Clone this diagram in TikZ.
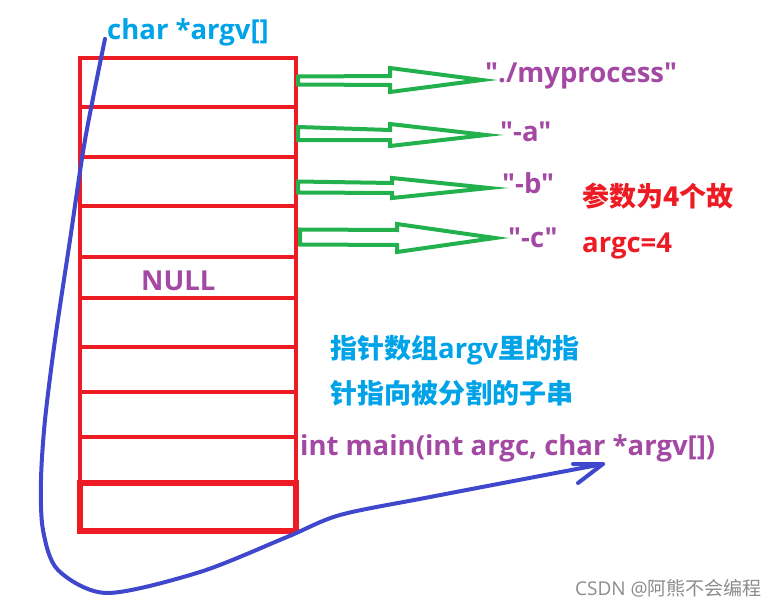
\documentclass[tikz,border=0pt]{standalone}
\usepackage{fontspec}
\setmainfont{Open Sans}[Ligatures=TeXOff]
\newfontfamily\cjk{Noto Sans CJK SC}[Ligatures=TeXOff]
\usetikzlibrary{calc}
\definecolor{pred}{HTML}{ED1C24}
\definecolor{pgreen}{HTML}{22B14C}
\definecolor{pblue}{HTML}{3F48CC}
\definecolor{ppurple}{HTML}{A349A4}
\definecolor{pcyan}{HTML}{00A2E8}
\definecolor{pgray}{HTML}{8C8C8C}
\tikzset{
  cell/.style={draw=pred, line width=4.5pt, minimum width=216pt, inner sep=0pt, outer sep=0pt},
  lbl/.style={anchor=base west, inner sep=0pt, font=\fontsize{27.5}{30}\selectfont\bfseries},
  garrow/.style={draw=pgreen, line width=4pt, line join=miter},
  curve/.style={draw=pblue, line width=4pt, line cap=round, line join=round},
}
\newcommand{\zh}{\cjk\fontsize{27}{30}\selectfont\bfseries}
\begin{document}
\begin{tikzpicture}[x=1pt,y=-1pt]
\useasboundingbox (0,0) rectangle (781,607);
% cells
\node[cell, minimum height=49pt] (c1) at (188,82.5) {};
\node[cell, minimum height=50pt] (c2) at (188,132) {};
\node[cell, minimum height=49pt] (c3) at (188,181.5) {};
\node[cell, minimum height=51pt] (c4) at (188,231.5) {};
\node[cell, minimum height=41pt] (c5) at (188,277.5) {};
\node[cell, minimum height=49pt] (c6) at (188,322.5) {};
\node[cell, minimum height=45pt] (c7) at (188,369.5) {};
\node[cell, minimum height=45pt] (c8) at (188,414.5) {};
\node[cell, minimum height=46pt] (c9) at (188,460) {};
\node[cell, minimum height=48pt, line width=5.5pt] (c10) at (188,507) {};
% labels
\node[lbl, pcyan] (argvlbl) at (107,40) {char *argv[]};
\node[lbl, ppurple] (s0) at (485,83) {"./myprocess"};
\node[lbl, ppurple] (s1) at (500,142) {"-a"};
\node[lbl, ppurple] (s2) at (502,193) {"-b"};
\node[lbl, ppurple] (s3) at (508,247) {"-c"};
\node[lbl, pred] (n1) at (582,206) {\zh 参数为4个故};
\node[lbl, pred] (n2) at (582,252) {argc=4};
\node[lbl, ppurple] (null) at (141,290) {NULL};
\node[lbl, pcyan] (d1) at (330,358) {{\zh 指针数组}argv{\zh 里的指}};
\node[lbl, pcyan] (d2) at (330,403) {\zh 针指向被分割的子串};
\node[lbl, ppurple] (mainlbl) at (300,455) {int main(int argc, char *argv[])};
\node[anchor=base west, inner sep=0pt, font=\fontsize{19}{22}\selectfont, text=pgray] (wm) at (575,595) {CSDN @{\cjk 阿熊不会编程}};
% green block arrows
\draw[garrow] ($(c1.east)+(2,-6)$) -- (390,76) -- (390,68) -- (482,80) -- (390,92) -- (390,85) -- ($(c1.east)+(2,2)$) -- cycle;
\draw[garrow] ($(c2.east)+(2,-5)$) -- (390,130) -- (390,124) -- (486,135) -- (390,146) -- (390,140) -- ($(c2.east)+(2,8)$) -- cycle;
\draw[garrow] ($(c3.east)+(2,0)$) -- (392,183) -- (392,178) -- (489,188) -- (392,198) -- (392,193) -- ($(c3.east)+(2,11)$) -- cycle;
\draw[garrow] ($(c4.east)+(4,-2)$) -- (397,230) -- (397,224) -- (495,238) -- (397,252) -- (397,245) -- ($(c4.east)+(4,13)$) -- cycle;
% blue curve
\coordinate (cs) at ($(argvlbl.west)+(-2,6)$);
\coordinate (ce) at (603,464);
\draw[curve] plot[smooth, tension=0.5] coordinates {(cs) (85,140) (70,240) (55,340) (45,420) (41,480) (43,530) (58,570) (107,593) (200,572) (287,537) (340,515) (430,497) (ce)};
\draw[curve] (573,464) -- (ce) -- (578,483);
\end{tikzpicture}
\end{document}
